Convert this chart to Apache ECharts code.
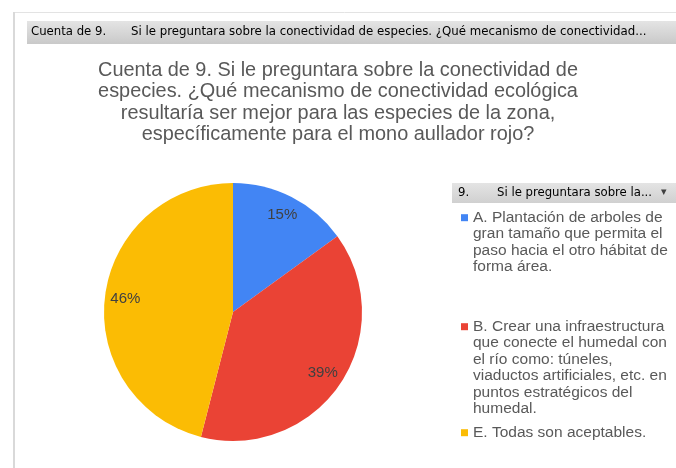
<!DOCTYPE html>
<html>
<head>
<meta charset="utf-8">
<script src="https://cdn.jsdelivr.net/npm/echarts@6/dist/echarts.min.js"></script>
<style>
  html, body { margin: 0; padding: 0; background: #fff; }
  #main { width: 676px; height: 468px; }
</style>
</head>
<body>
<div id="main"></div>
<script>
// datos del gráfico
var categorias = [
  "A. Plantación de arboles de gran tamaño que permita el paso hacia el otro hábitat de forma área.",
  "B. Crear una infraestructura que conecte el humedal con el río como: túneles, viaductos artificiales, etc. en puntos estratégicos del humedal.",
  "E. Todas son aceptables."
];
var etiquetasLeyenda = [
  "A. Plantación de arboles de\ngran tamaño que permita el\npaso hacia el otro hábitat de\nforma área.",
  "B. Crear una infraestructura\nque conecte el humedal con\nel río como: túneles,\nviaductos artificiales, etc. en\npuntos estratégicos del\nhumedal.",
  "E. Todas son aceptables."
];
var valores = [15, 39, 46];
var colores = ["#4285F4", "#EA4335", "#FBBC04"];
var titulo = "Cuenta de 9. Si le preguntara sobre la conectividad de\nespecies. ¿Qué mecanismo de conectividad ecológica\nresultaría ser mejor para las especies de la zona,\nespecíficamente para el mono aullador rojo?";

var chart = echarts.init(document.getElementById("main"));

var serieData = [];
categorias.forEach(function (c, i) {
  serieData.push({ name: c, value: valores[i], itemStyle: { color: colores[i] } });
});

// una leyenda por elemento; el icono queda a la altura de la primera línea
var lh = 16.4;
var leyendaTops = [204.5, 313.5, 419.5];
var leyendas = [];
categorias.forEach(function (c, i) {
  var n = etiquetasLeyenda[i].split("\n").length;
  var h = n * lh;
  var y0 = lh / 2 - 3.5;
  leyendas.push({
    orient: "vertical",
    left: 456,
    top: leyendaTops[i],
    icon: "path://M0,0M0," + h + "M0," + y0 + "h7v7h-7z",
    itemWidth: 7,
    itemHeight: h,
    itemGap: 0,
    selectedMode: false,
    data: [c],
    formatter: function () { return etiquetasLeyenda[i]; },
    textStyle: {
      fontFamily: "Liberation Sans",
      fontSize: 15.5,
      lineHeight: lh,
      color: "#595959"
    }
  });
});

var fuenteBarra = "DejaVu Sans Condensed";

var option = {
  backgroundColor: "#fff",
  animation: false,
  title: {
    text: titulo,
    left: "center",
    top: 55,
    textStyle: {
      fontFamily: "Liberation Sans",
      fontSize: 19.9,
      fontWeight: "normal",
      lineHeight: 21.3,
      color: "#595959"
    }
  },
  legend: leyendas,
  graphic: [
    { type: "line", shape: { x1: 13, y1: 12.5, x2: 676, y2: 12.5 }, style: { stroke: "#e3e3e3", lineWidth: 1 } },
    { type: "rect", shape: { x: 13, y: 12, width: 2, height: 456 }, style: { fill: "#d9d9d9" } },
    {
      type: "rect", shape: { x: 27, y: 21, width: 649, height: 23 },
      style: {
        fill: new echarts.graphic.LinearGradient(0, 0, 0, 1, [
          { offset: 0, color: "#e4e4e4" }, { offset: 1, color: "#c9c9c9" }
        ])
      }
    },
    { type: "text", left: 31, top: 25, style: { text: "Cuenta de 9.", font: "13px '" + fuenteBarra + "'", fill: "#000" } },
    { type: "text", left: 131, top: 25, style: { text: "Si le preguntara sobre la conectividad de especies. ¿Qué mecanismo de conectividad...", font: "13.1px '" + fuenteBarra + "'", fill: "#000" } },
    {
      type: "rect", shape: { x: 452, y: 183, width: 224, height: 20 },
      style: {
        fill: new echarts.graphic.LinearGradient(0, 0, 0, 1, [
          { offset: 0, color: "#e4e4e4" }, { offset: 1, color: "#d0d0d0" }
        ])
      }
    },
    { type: "text", left: 458, top: 186, style: { text: "9.", font: "13px '" + fuenteBarra + "'", fill: "#000" } },
    { type: "text", left: 497, top: 186, style: { text: "Si le preguntara sobre la...", font: "13px '" + fuenteBarra + "'", fill: "#000" } },
    { type: "text", left: 661, top: 187, style: { text: "▾", font: "11px 'DejaVu Sans'", fill: "#404040" } }
  ],
  series: [
    {
      type: "pie",
      center: [233, 312],
      radius: [0, 129],
      startAngle: 90,
      clockwise: true,
      label: { show: false },
      labelLine: { show: false },
      data: serieData
    },
    {
      // serie transparente sólo para colocar las etiquetas de porcentaje
      type: "pie",
      center: [233, 312],
      radius: [82, 129],
      startAngle: 90,
      clockwise: true,
      silent: true,
      legendHoverLink: false,
      itemStyle: { color: "rgba(0,0,0,0)" },
      label: {
        show: true,
        position: "inside",
        formatter: "{d}%",
        fontFamily: "Liberation Sans",
        fontSize: 15,
        color: "#404040"
      },
      labelLine: { show: false },
      data: categorias.map(function (c, i) { return { name: c, value: valores[i] }; })
    }
  ]
};

chart.setOption(option);
</script>
</body>
</html>
